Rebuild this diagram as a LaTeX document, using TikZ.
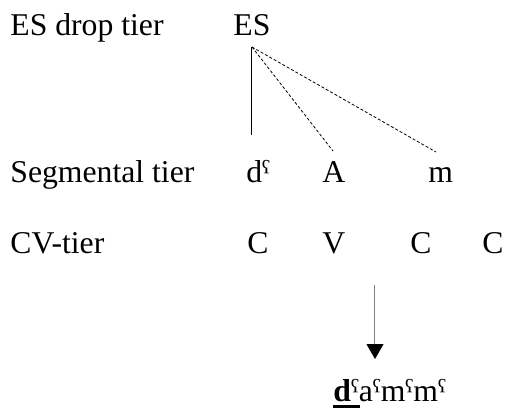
\documentclass[tikz,border=0pt]{standalone}
\usepackage{fontspec}
\setmainfont{Liberation Serif}
\usepackage{tikz}
\usetikzlibrary{arrows.meta}
\newcommand{\thickul}[1]{\leavevmode\rlap{\rule[-3.5pt]{13.5pt}{1.5pt}}#1}

\begin{document}
\begin{tikzpicture}[x=0.5pt, y=-0.5pt, every node/.style={inner sep=0pt, anchor=base west, font=\fontsize{15.85}{19}\selectfont}]
  \useasboundingbox (0,0) rectangle (505,409);
  % tier labels
  \node (es-lbl) at (10,35) {ES drop tier};
  \node (seg-lbl) at (10,182) {Segmental tier};
  \node (cv-lbl) at (10,253) {CV-tier};
  % ES and segments
  \node (es) at (233,35) {ES};
  \node (d) at (246,182) {dˤ};
  \node (a) at (322,182) {A};
  \node (m) at (428,182) {m};
  % CV slots
  \node (c1) at (247,253) {C};
  \node (v1) at (322,253) {V};
  \node (c2) at (410,253) {C};
  \node (c3) at (482,253) {C};
  % output form
  \node (out) at (333,401) {\thickul{\textbf{d}}ˤaˤmˤmˤ};
  \coordinate (es-root) at (252,47);
  \coordinate (d-top) at (252,135);
  \coordinate (a-top) at (333,151);
  \coordinate (m-top) at (436,152);
  \coordinate (arr-top) at (375,285);
  \coordinate (arr-tip) at (375,359);
  \draw[line width=0.5pt] (es-root) -- (d-top);
  \draw[line width=0.4pt, dash pattern=on 1.5pt off 1pt] (es-root) -- (a-top);
  \draw[line width=0.4pt, dash pattern=on 1.5pt off 1pt] (es-root) -- (m-top);
  \draw[-{Triangle[length=7.5pt, width=8.5pt, black]}, gray, line width=0.5pt] (arr-top) -- (arr-tip);
\end{tikzpicture}
\end{document}
